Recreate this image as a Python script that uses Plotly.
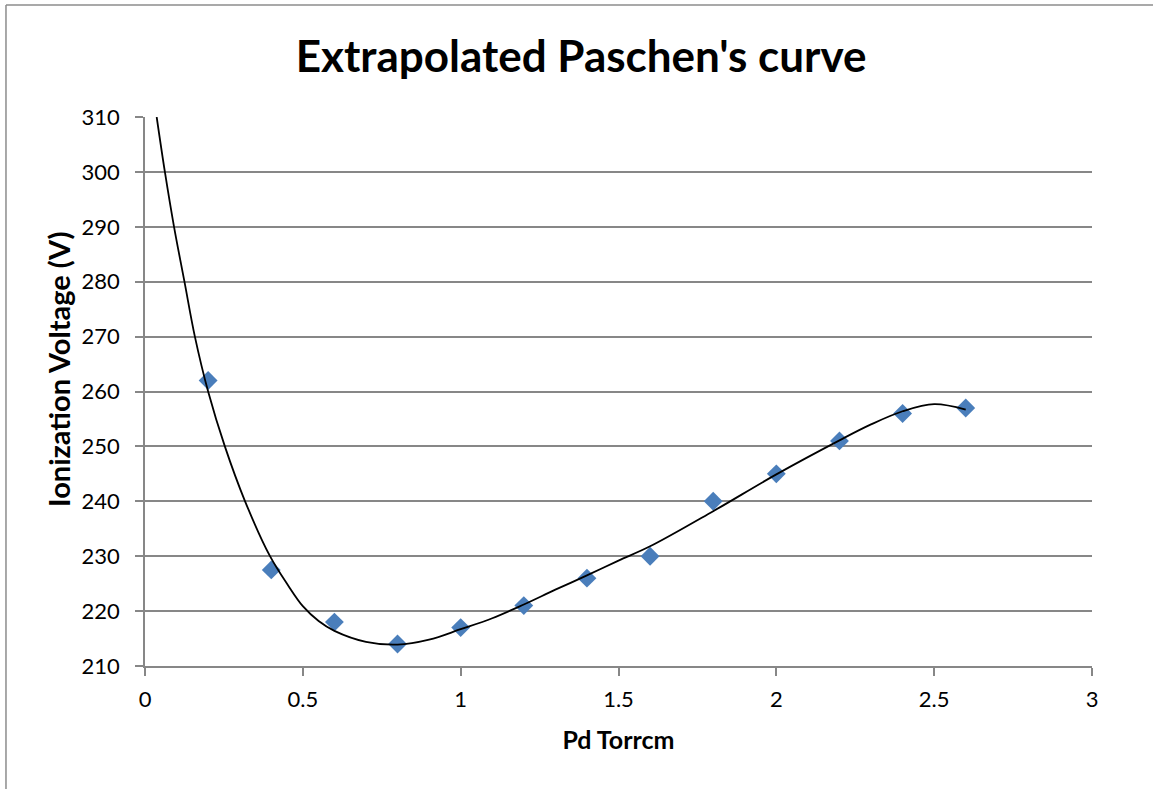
import plotly.graph_objects as go

# measured points
pd_torrcm = [0.2, 0.4, 0.6, 0.8, 1.0, 1.2, 1.4, 1.6, 1.8, 2.0, 2.2, 2.4, 2.6]
voltage = [262, 227.5, 218, 214, 217, 221, 226, 230, 240, 245, 251, 256, 257]

# trendline
trend_x = [0.037, 0.063, 0.092, 0.125, 0.158, 0.200, 0.253, 0.317, 0.396, 0.452,
           0.5, 0.55, 0.6, 0.7, 0.8, 0.9, 1.0, 1.1, 1.2, 1.3,
           1.4, 1.5, 1.6, 1.8, 2.0, 2.2, 2.3, 2.4, 2.5, 2.6]
trend_y = [310, 300, 290, 280, 270, 260, 250, 240, 230, 224.8,
           220.9, 218.2, 216.4, 214.4, 213.9, 214.8, 216.7, 218.7, 221.2, 223.9,
           226.5, 229.2, 231.8, 238.2, 244.9, 251.1, 254.0, 256.4, 257.7, 256.7]

x_ticks = [0, 0.5, 1, 1.5, 2, 2.5, 3]
y_ticks = [210, 220, 230, 240, 250, 260, 270, 280, 290, 300, 310]

FONT = "Lato, Open Sans, sans-serif"
GRID = "#878787"

fig = go.Figure()

fig.add_trace(go.Scatter(
    x=pd_torrcm, y=voltage,
    mode="markers",
    marker=dict(symbol="diamond", size=14.5, color="#4A7EBB"),
    name="Ionization Voltage",
))

fig.add_trace(go.Scatter(
    x=trend_x, y=trend_y,
    mode="lines",
    line=dict(color="black", width=1.8, shape="spline"),
    name="Trendline",
))

# chart area border (only left and top edges fall inside the picture)
fig.add_shape(type="line", xref="paper", yref="paper",
              x0=-0.1468, y0=-1, x1=-0.1468, y1=1.204,
              line=dict(color="#8c8c8c", width=1.5))
fig.add_shape(type="line", xref="paper", yref="paper",
              x0=-0.1468, y0=1.204, x1=2, y1=1.204,
              line=dict(color="#8c8c8c", width=1.5))

# y title sits a little above the axis middle, as in the original
fig.add_annotation(
    text="<b>Ionization Voltage (V)</b>",
    xref="paper", yref="paper",
    x=(58 - 145) / 947, y=(666 - 370) / 549,
    xanchor="center", yanchor="middle",
    textangle=-90, showarrow=False,
    font=dict(family=FONT, size=29, color="black"),
)

fig.update_layout(
    width=1153, height=789,
    margin=dict(l=145, r=61, t=117, b=123),
    paper_bgcolor="white",
    plot_bgcolor="white",
    showlegend=False,
    font=dict(family=FONT, size=22, color="black"),
    title=dict(
        text="<b>Extrapolated Paschen's curve</b>",
        x=0.504, xanchor="center",
        y=1 - 57 / 789, yanchor="middle",
        font=dict(family=FONT, size=44, color="black"),
    ),
    xaxis=dict(
        range=[0, 3], tickvals=x_ticks,
        showgrid=False, zeroline=False,
        showline=True, linecolor=GRID, linewidth=1.6,
        ticks="outside", ticklen=8, tickwidth=1.6, tickcolor=GRID,
        ticklabelstandoff=5,
        title=dict(text="<b>Pd Torrcm</b>", font=dict(size=25), standoff=20),
    ),
    yaxis=dict(
        range=[210, 310], tickvals=y_ticks,
        showgrid=True, gridcolor=GRID, gridwidth=1.6, zeroline=False,
        showline=True, linecolor=GRID, linewidth=1.6,
        ticks="outside", ticklen=8, tickwidth=1.6, tickcolor=GRID,
        ticklabelstandoff=11,
    ),
)

fig.write_html(
    "out.html",
    config={"displayModeBar": False},
    post_script="document.body.style.margin='0';document.body.style.overflow='hidden';",
)
